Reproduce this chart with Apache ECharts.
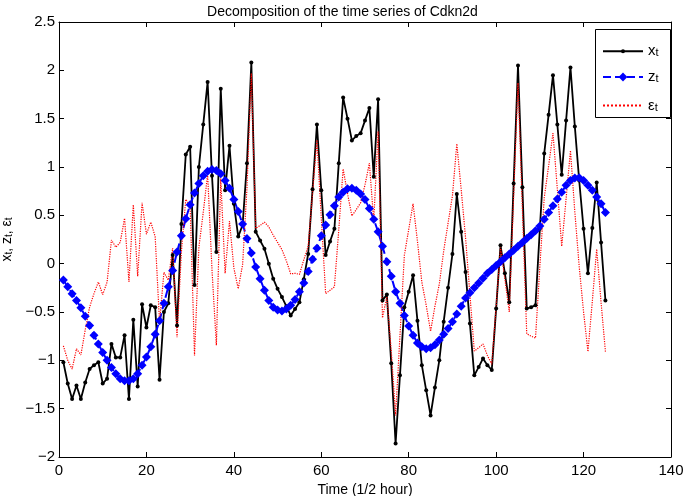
<!DOCTYPE html>
<html>
<head>
<meta charset="utf-8">
<script src="https://cdn.jsdelivr.net/npm/echarts@6/dist/echarts.min.js"></script>
<style>
html,body{margin:0;padding:0;background:#fff;}
#chart{width:685px;height:496px;}
</style>
</head>
<body>
<div id="chart"></div>
<script>
// Time index (1/2 hour steps)
const times = Array.from({length: 125}, (_, i) => i + 1);

// Observed series x_t
const xSeries = [
  -1.02,-1.24,-1.40,-1.26,-1.40,-1.23,-1.09,-1.05,-1.02,-1.24,
  -1.19,-0.83,-0.97,-0.97,-0.74,-1.40,-0.58,-1.27,-0.42,-0.66,
  -0.43,-0.45,-1.20,-0.50,-0.41,0.09,-0.64,0.41,1.13,1.21,
  -0.22,1.00,1.44,1.88,0.91,0.12,1.81,0.76,1.22,0.62,
  0.28,0.40,1.04,2.08,0.33,0.24,0.155,0.00,-0.155,-0.26,
  -0.345,-0.44,-0.535,-0.47,-0.40,-0.16,0.10,0.77,1.44,0.76,
  0.09,0.23,0.36,1.04,1.72,1.50,1.275,1.32,1.35,1.48,
  1.61,0.90,1.70,-0.38,-0.32,-1.03,-1.86,-1.155,-0.45,-0.29,
  -0.12,-0.59,-1.05,-1.31,-1.57,-1.28,-1.00,-0.60,-0.25,0.10,
  0.72,0.33,-0.085,-0.62,-1.155,-1.07,-0.98,-1.05,-1.10,-0.465,
  0.19,-0.10,-0.40,0.83,2.05,0.79,-0.465,-0.45,-0.43,0.36,
  1.14,1.54,1.95,1.44,0.92,1.48,2.03,1.42,0.86,0.36,
  -0.10,0.37,0.84,0.22,-0.38
];

// Smooth component z_t
const zSeries = [
  -0.17,-0.24,-0.31,-0.38,-0.455,-0.545,-0.64,-0.74,-0.83,-0.92,
  -1.00,-1.075,-1.14,-1.19,-1.21,-1.21,-1.19,-1.14,-1.05,-0.965,
  -0.86,-0.73,-0.59,-0.41,-0.24,-0.07,0.12,0.29,0.465,0.61,
  0.73,0.83,0.91,0.955,0.975,0.965,0.93,0.86,0.78,0.665,
  0.54,0.41,0.26,0.11,-0.035,-0.155,-0.275,-0.38,-0.45,-0.48,
  -0.49,-0.47,-0.43,-0.37,-0.29,-0.20,-0.08,0.045,0.16,0.29,
  0.40,0.505,0.60,0.69,0.74,0.775,0.78,0.76,0.72,0.665,
  0.57,0.46,0.33,0.18,0.02,-0.13,-0.29,-0.41,-0.535,-0.645,
  -0.74,-0.82,-0.86,-0.88,-0.87,-0.84,-0.79,-0.73,-0.67,-0.60,
  -0.52,-0.44,-0.355,-0.30,-0.25,-0.20,-0.15,-0.10,-0.06,-0.02,
  0.02,0.06,0.10,0.14,0.18,0.22,0.26,0.30,0.34,0.39,
  0.46,0.53,0.60,0.67,0.74,0.81,0.86,0.885,0.89,0.86,
  0.81,0.76,0.69,0.62,0.53
];

// Residual component eps_t
const epsSeries = [
  -0.85,-1.00,-1.09,-0.88,-0.945,-0.685,-0.45,-0.31,-0.19,-0.32,
  -0.19,0.245,0.17,0.22,0.47,-0.19,0.61,-0.13,0.63,0.305,
  0.43,0.28,-0.61,-0.09,-0.17,0.16,-0.76,0.12,0.665,0.60,
  -0.95,0.17,0.53,0.925,-0.065,-0.845,0.88,-0.10,0.44,-0.045,
  -0.26,-0.01,0.78,1.97,0.365,0.395,0.43,0.38,0.295,0.22,
  0.145,0.03,-0.105,-0.10,-0.11,0.04,0.18,0.725,1.28,0.47,
  -0.31,-0.275,-0.24,0.35,0.98,0.725,0.495,0.56,0.63,0.815,
  1.04,0.44,1.37,-0.56,-0.34,-0.90,-1.57,-0.745,0.085,0.355,
  0.62,0.23,-0.19,-0.43,-0.70,-0.44,-0.21,0.13,0.42,0.70,
  1.24,0.77,0.27,-0.32,-0.905,-0.87,-0.83,-0.95,-1.04,-0.445,
  0.17,-0.16,-0.50,0.69,1.87,0.57,-0.725,-0.75,-0.77,-0.03,
  0.68,1.01,1.35,0.77,0.18,0.67,1.17,0.535,-0.03,-0.50,
  -0.91,-0.39,0.15,-0.40,-0.91
];

const seriesNames = ['x', 'z', '\u03b5'];
const titleText = 'Decomposition of the time series of Cdkn2d';
const xAxisName = 'Time (1/2 hour)';

const FONT = 'Liberation Sans, Arial, Helvetica, sans-serif';
const pair = (vals) => vals.map((v, i) => [times[i], v]);
const minusFmt = (v) => (v < 0 ? '\u2212' + Math.abs(v) : String(v));

const subRich = {
  b: {fontSize: 15, fontFamily: FONT, color: '#000', lineHeight: 15, verticalAlign: 'top'},
  s: {fontSize: 11, fontFamily: FONT, color: '#000', lineHeight: 11, padding: [7, 0, 0, 0], verticalAlign: 'bottom'}
};
const subRichAxis = {
  b: {fontSize: 14, fontFamily: FONT, color: '#000', lineHeight: 14, verticalAlign: 'top'},
  s: {fontSize: 10, fontFamily: FONT, color: '#000', lineHeight: 10, padding: [6, 0, 0, 0], verticalAlign: 'bottom'}
};

const chart = echarts.init(document.getElementById('chart'), null, {renderer: 'canvas'});
const axisCommon = {
  type: 'value',
  splitLine: {show: false},
  axisLine: {show: true, onZero: false, lineStyle: {color: '#000', width: 1}},
  axisTick: {show: true, inside: true, length: 5, lineStyle: {color: '#000'}},
};
const legendCommon = {
  orient: 'horizontal',
  left: 602,
  padding: 0,
  itemWidth: 40,
  formatter: (name) => '{b|' + name + '}{s|t}',
  textStyle: {rich: subRich},
  selectedMode: false
};
chart.setOption({
  animation: false,
  backgroundColor: '#fff',
  textStyle: {fontFamily: FONT},
  title: {
    text: titleText,
    left: 'center',
    top: 0,
    textStyle: {fontSize: 14, fontWeight: 'normal', color: '#000', fontFamily: FONT}
  },
  grid: {left: 59, top: 22, width: 612, height: 435, containLabel: false, outerBoundsMode: 'none'},
  graphic: [{
    type: 'rect', z: 3, silent: true,
    shape: {x: 595.5, y: 29.5, width: 75, height: 88},
    style: {fill: '#fff', stroke: '#000', lineWidth: 1}
  }],
  legend: [
    Object.assign({}, legendCommon, {top: 40.8, itemHeight: 5, data: [seriesNames[0]]}),
    Object.assign({}, legendCommon, {top: 66.5, itemHeight: 11, data: [seriesNames[1]]}),
    Object.assign({}, legendCommon, {top: 95, itemHeight: 10,
      data: [{name: seriesNames[2], itemStyle: {opacity: 0}}]})
  ],
  xAxis: [
    Object.assign({}, axisCommon, {
      min: 0, max: 140, interval: 20, position: 'bottom',
      axisLabel: {color: '#000', fontSize: 15, margin: 6, fontFamily: FONT},
      name: xAxisName, nameLocation: 'middle', nameGap: 25,
      nameTextStyle: {color: '#000', fontSize: 14, fontFamily: FONT}
    }),
    Object.assign({}, axisCommon, {
      min: 0, max: 140, interval: 20, position: 'top',
      axisLabel: {show: false}
    })
  ],
  yAxis: [
    Object.assign({}, axisCommon, {
      min: -2, max: 2.5, interval: 0.5, position: 'left',
      axisLabel: {color: '#000', fontSize: 15, margin: 4, formatter: minusFmt, fontFamily: FONT},
      name: '{b|x}{s|t}{b|, z}{s|t}{b|, \u03b5}{s|t}',
      nameLocation: 'middle', nameGap: 38, nameRotate: 90,
      nameTextStyle: {rich: subRichAxis}
    }),
    Object.assign({}, axisCommon, {
      min: -2, max: 2.5, interval: 0.5, position: 'right',
      axisLabel: {show: false}
    })
  ],
  series: [
    {
      name: seriesNames[0], type: 'line', data: pair(xSeries),
      symbol: 'circle', symbolSize: 4, showSymbol: true,
      lineStyle: {color: '#000', width: 1.8},
      itemStyle: {color: '#000'}
    },
    {
      name: seriesNames[1], type: 'line', data: pair(zSeries),
      symbol: 'diamond', symbolSize: 9, showSymbol: true,
      lineStyle: {color: '#0000ff', width: 2, type: 'dashed'},
      itemStyle: {color: '#0000ff'}
    },
    {
      name: seriesNames[2], type: 'line', data: pair(epsSeries),
      symbol: 'none', showSymbol: false,
      lineStyle: {color: '#ff0000', width: 1.2, type: 'dotted'},
      itemStyle: {color: '#ff0000'}
    }
  ]
});
</script>
</body>
</html>
